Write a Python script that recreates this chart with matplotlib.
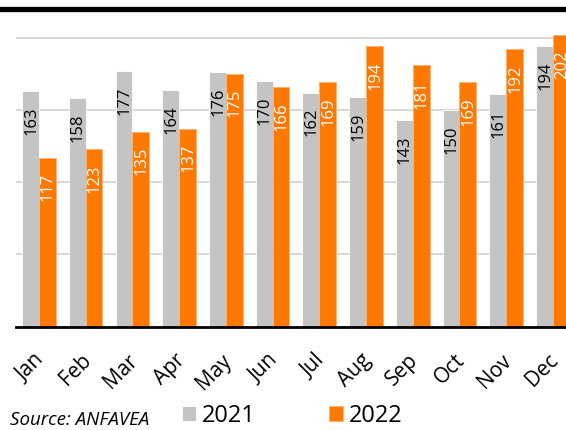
import matplotlib; matplotlib.use("Agg")
import matplotlib.pyplot as plt
from matplotlib.lines import Line2D
import matplotlib.transforms as mtransforms
import numpy as np

months = ["Jan", "Feb", "Mar", "Apr", "May", "Jun", "Jul", "Aug", "Sep", "Oct", "Nov", "Dec"]
sales_2021 = [163, 158, 177, 164, 176, 170, 162, 159, 143, 150, 161, 194]
sales_2022 = [117, 123, 135, 137, 175, 166, 169, 194, 181, 169, 192, 202]

GRAY = "#c4c4c4"
ORANGE = "#ff7800"
plt.rcParams["font.family"] = ["Open Sans", "DejaVu Sans"]

W, H = 566, 430
fig = plt.figure(figsize=(W / 100, H / 100), dpi=100)
ax = fig.add_axes([16 / W, (H - 326.5) / H, 550 / W, (326.5 - 20) / H])

x = np.arange(len(months))
w = 0.36
b1 = ax.bar(x - w / 2, sales_2021, w, color=GRAY, edgecolor="white", lw=0.6, label="2021", zorder=2)
b2 = ax.bar(x + w / 2, sales_2022, w, color=ORANGE, edgecolor="#ffb070", lw=0.6, label="2022", zorder=2)

for xi, v in zip(x - w / 2, sales_2021):
    ax.annotate(str(v), (xi, v), xytext=(0.5, -11), textcoords="offset points",
                rotation=90, ha="center", va="top", fontsize=12, color="black", zorder=3)
for xi, v in zip(x + w / 2, sales_2022):
    ax.annotate(str(v), (xi, v), xytext=(0.5, -11), textcoords="offset points",
                rotation=90, ha="center", va="top", fontsize=12, color="white", zorder=3,
                annotation_clip=False)

ax.set_xlim(-0.49, 11.28)
ax.set_ylim(0, (326.5 - 20) / 1.444)
ax.set_yticks([50, 100, 150, 200])
ax.yaxis.grid(True, color="#d9d9d9", lw=1.5)
ax.set_axisbelow(True)
ax.tick_params(axis="y", left=False, labelleft=False)
ax.tick_params(axis="x", length=0, pad=17)
ax.set_xticks(x)
ax.set_xticklabels(months, rotation=45, ha="right", rotation_mode="anchor", fontsize=15)
shift = mtransforms.ScaledTranslation(-5 / 100, 0, fig.dpi_scale_trans)
for lab in ax.get_xticklabels():
    lab.set_transform(lab.get_transform() + shift)
for s in ["top", "right", "left"]:
    ax.spines[s].set_visible(False)
ax.spines["bottom"].set_linewidth(2)
ax.spines["bottom"].set_color("black")

# thick black rule along the top
fig.add_artist(Line2D([2 / W, 1], [1 - 8.5 / H, 1 - 8.5 / H], color="black", lw=3.8))

fig.text(10 / W, 1 - 420 / H, "Source: ANFAVEA", fontsize=13.5, style="italic", va="center")
fig.legend(handles=[b1, b2], loc="center left", bbox_to_anchor=(182 / W, 1 - 416 / H),
           ncol=2, frameon=False, fontsize=17, handlelength=0.6, handleheight=0.6,
           handletextpad=0.25, columnspacing=3.1, borderpad=0, borderaxespad=0)

fig.savefig("out.png", dpi=100)
